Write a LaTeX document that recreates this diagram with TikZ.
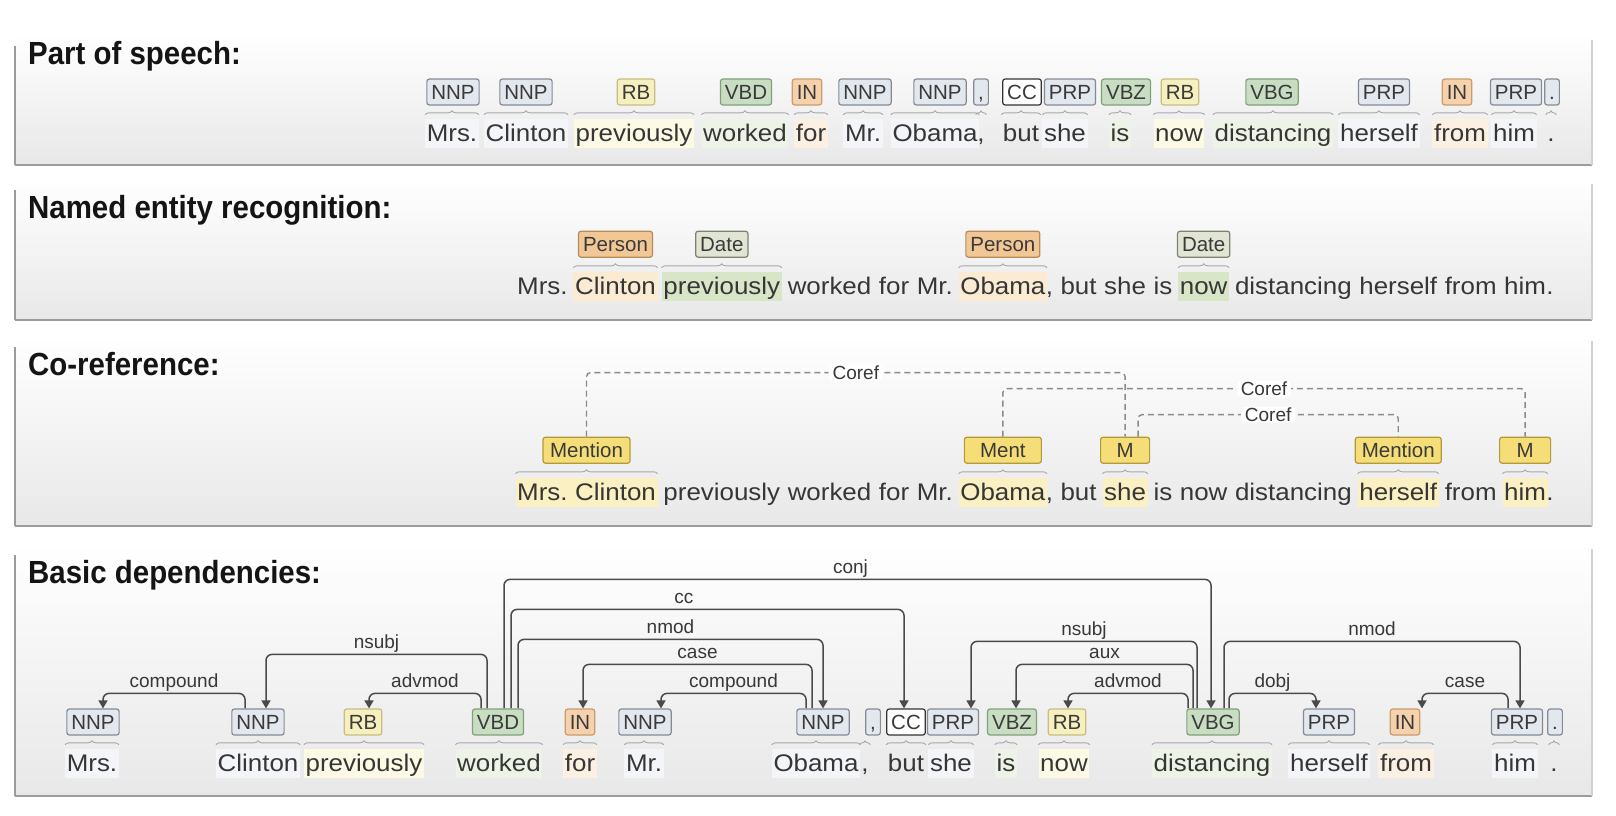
\documentclass[tikz,border=0pt]{standalone}
\usepackage{fontspec}
\setmainfont{Liberation Sans}
\newfontfamily\wordfont{Liberation Sans}[FakeStretch=1.08]
\newfontfamily\titlefont{Liberation Sans}[FakeStretch=0.92]
\usetikzlibrary{positioning,calc,arrows.meta,decorations.pathreplacing}
\pgfdeclarelayer{panellayer}
\pgfdeclarelayer{marklayer}
\pgfdeclarelayer{edgelayer}
\pgfdeclarelayer{nodelayer}
\pgfsetlayers{panellayer,marklayer,edgelayer,nodelayer,main}
\definecolor{titletxt}{HTML}{141414}
\definecolor{wordtxt}{HTML}{363636}
\definecolor{tagtxt}{HTML}{3A3A3A}
\definecolor{lbltxt}{HTML}{383838}
\definecolor{nnpfill}{HTML}{E3E7EE}
\definecolor{nnpline}{HTML}{848B96}
\definecolor{rbfill}{HTML}{F6EFBE}
\definecolor{rbline}{HTML}{C8BC80}
\definecolor{vbfill}{HTML}{C8DDC2}
\definecolor{vbline}{HTML}{80A07C}
\definecolor{infill}{HTML}{F5D2AC}
\definecolor{inedge}{HTML}{C99B6D}
\definecolor{perfill}{HTML}{F2C796}
\definecolor{perline}{HTML}{B58A5C}
\definecolor{datefill}{HTML}{E1E5D4}
\definecolor{dateline}{HTML}{7E8270}
\definecolor{menfill}{HTML}{F5DE78}
\definecolor{menline}{HTML}{B29A3C}
\definecolor{hlnnp}{HTML}{F3F5F8}
\definecolor{hlrb}{HTML}{FCF9E4}
\definecolor{hlvb}{HTML}{EDF3E6}
\definecolor{hlin}{HTML}{FCF0E2}
\definecolor{hlper}{HTML}{FBEBD3}
\definecolor{hldate}{HTML}{D9E5C7}
\definecolor{hlmen}{HTML}{FBF0C2}
\definecolor{bracec}{HTML}{A8A8A8}
\definecolor{arcc}{HTML}{4A4A4A}
\definecolor{corefc}{HTML}{8A8A8A}
\definecolor{panelc}{HTML}{E8E8E8}
\definecolor{paneledge}{HTML}{9C9C9C}
\tikzstyle{panel}=[top color=white, bottom color=panelc]
\tikzstyle{paneline}=[draw=paneledge, line width=2.5pt]
\tikzstyle{title}=[font=\titlefont\bfseries\fontsize{32pt}{32pt}\selectfont, text=titletxt, anchor=base west, inner sep=0pt]
\tikzstyle{word}=[font=\wordfont\fontsize{24pt}{24pt}\selectfont, text=wordtxt, inner xsep=1.5pt, inner ysep=2pt, text height=20pt, text depth=5pt]
\tikzstyle{tag}=[rounded corners=2.5pt, line width=1.2pt, font=\fontsize{20.5pt}{20.5pt}\selectfont, text=tagtxt, inner xsep=4.5pt, inner ysep=0pt, text height=15pt, text depth=0pt, minimum height=26pt]
\tikzstyle{tagnn}=[tag, fill=nnpfill, draw=nnpline]
\tikzstyle{tagrb}=[tag, fill=rbfill, draw=rbline]
\tikzstyle{tagvb}=[tag, fill=vbfill, draw=vbline]
\tikzstyle{tagin}=[tag, fill=infill, draw=inedge]
\tikzstyle{tagcc}=[tag, fill=white, draw=black!80]
\tikzstyle{tagper}=[tag, fill=perfill, draw=perline]
\tikzstyle{tagdate}=[tag, fill=datefill, draw=dateline]
\tikzstyle{tagmen}=[tag, fill=menfill, draw=menline]
\tikzstyle{brace}=[draw=bracec, line width=0.9pt, decorate, decoration={brace, amplitude=4pt}]
\tikzstyle{dep}=[draw=arcc, line width=1.5pt, rounded corners=6pt, -{Triangle[length=8pt, width=9pt]}]
\tikzstyle{deplbl}=[above, font=\fontsize{19pt}{19pt}\selectfont, text=lbltxt, inner xsep=1pt, inner ysep=1.5pt, text depth=4pt]
\tikzstyle{coref}=[draw=corefc, line width=1.4pt, dash pattern=on 6pt off 4pt, rounded corners=4pt]
\tikzstyle{corlbl}=[font=\fontsize{19pt}{19pt}\selectfont, text=lbltxt, fill=white, inner xsep=4pt, inner ysep=1pt]

\begin{document}
\begin{tikzpicture}[x=1pt, y=-1pt]
\useasboundingbox (0,0) rectangle (1616,816);
\begin{pgfonlayer}{panellayer}
	\fill[white] (0,0) rectangle (1616,816);
	% the four panels
	\shade[panel] (15,34) rectangle (1592,165);
	\shade[panel] (15,178) rectangle (1592,320);
	\shade[panel] (15,335) rectangle (1592,526);
	\shade[panel] (15,543) rectangle (1592,796);
	\draw[paneline] (15,165) -- (1592,165);
	\draw[paneline] (15,320) -- (1592,320);
	\draw[paneline] (15,526) -- (1592,526);
	\draw[paneline] (15,796) -- (1592,796);
	\draw[draw=paneledge, line width=2pt] (15,46) -- (15,165);
	\draw[draw=paneledge, line width=2pt] (15,190) -- (15,320);
	\draw[draw=paneledge, line width=2pt] (15,347) -- (15,526);
	\draw[draw=paneledge, line width=2pt] (15,555) -- (15,796);
	\draw[draw=black!18, line width=1.5pt] (1592,40) -- (1592,165);
	\draw[draw=black!18, line width=1.5pt] (1592,184) -- (1592,320);
	\draw[draw=black!18, line width=1.5pt] (1592,341) -- (1592,526);
	\draw[draw=black!18, line width=1.5pt] (1592,549) -- (1592,796);
\end{pgfonlayer}
\begin{pgfonlayer}{nodelayer}
	\node[title] (h1) at (28,65) {Part of speech:};
	\node[title] (h2) at (28,218) {Named entity recognition:};
	\node[title] (h3) at (28,375) {Co-reference:};
	\node[title] (h4) at (28,583) {Basic dependencies:};
	% part of speech
	\node[word, anchor=base] (p1) at (452,141) {Mrs.};
	\node[word, anchor=base] (p2) at (526,141) {Clinton};
	\node[word, anchor=base] (p3) at (634,141) {previously};
	\node[word, anchor=base] (p4) at (745,141) {worked};
	\node[word, anchor=base] (p5) at (811,141) {for};
	\node[word, anchor=base] (p6) at (863,141) {Mr.};
	\node[word, anchor=base] (p7) at (935,141) {Obama};
	\node[word, anchor=base] (p8) at (981,141) {,};
	\node[word, anchor=base] (p9) at (1021,141) {but};
	\node[word, anchor=base] (p10) at (1065,141) {she};
	\node[word, anchor=base] (p11) at (1120,141) {is};
	\node[word, anchor=base] (p12) at (1179,141) {now};
	\node[word, anchor=base] (p13) at (1273,141) {distancing};
	\node[word, anchor=base] (p14) at (1379,141) {herself};
	\node[word, anchor=base] (p15) at (1460,141) {from};
	\node[word, anchor=base] (p16) at (1514,141) {him};
	\node[word, anchor=base] (p17) at (1551,141) {.};
	\node[tagnn] (pt1) at (453,92) {NNP};
	\node[tagnn] (pt2) at (526,92) {NNP};
	\node[tagrb] (pt3) at (636,92) {RB};
	\node[tagvb] (pt4) at (746,92) {VBD};
	\node[tagin] (pt5) at (807,92) {IN};
	\node[tagnn] (pt6) at (865,92) {NNP};
	\node[tagnn] (pt7) at (940,92) {NNP};
	\node[tagnn] (pt8) at (981,92) {,};
	\node[tagcc] (pt9) at (1022,92) {CC};
	\node[tagnn] (pt10) at (1070,92) {PRP};
	\node[tagvb] (pt11) at (1126,92) {VBZ};
	\node[tagrb] (pt12) at (1180,92) {RB};
	\node[tagvb] (pt13) at (1272,92) {VBG};
	\node[tagnn] (pt14) at (1384,92) {PRP};
	\node[tagin] (pt15) at (1457,92) {IN};
	\node[tagnn] (pt16) at (1516,92) {PRP};
	\node[tagnn] (pt17) at (1552,92) {.};
	% named entities
	\node[word, anchor=base west] (n1) at (515.5,294) {Mrs.};
	\node[word, right=4.2pt of n1] (n2) {Clinton};
	\node[word, right=4.2pt of n2] (n3) {previously};
	\node[word, right=4.2pt of n3] (n4) {worked};
	\node[word, right=4.2pt of n4] (n5) {for};
	\node[word, right=4.2pt of n5] (n6) {Mr.};
	\node[word, right=4.2pt of n6] (n7) {Obama};
	\node[word, right=-3pt of n7] (n8) {,};
	\node[word, right=4.2pt of n8] (n9) {but};
	\node[word, right=4.2pt of n9] (n10) {she};
	\node[word, right=4.2pt of n10] (n11) {is};
	\node[word, right=4.2pt of n11] (n12) {now};
	\node[word, right=4.2pt of n12] (n13) {distancing};
	\node[word, right=4.2pt of n13] (n14) {herself};
	\node[word, right=4.2pt of n14] (n15) {from};
	\node[word, right=4.2pt of n15] (n16) {him};
	\node[word, right=-3pt of n16] (n17) {.};
	\node[tagper, above=14pt of n2] (e1) {Person};
	\node[tagdate, above=14pt of n3] (e2) {Date};
	\node[tagper, above=14pt of n7] (e3) {Person};
	\node[tagdate, above=14pt of n12] (e4) {Date};
	% co-reference
	\node[word, anchor=base west] (c1) at (515.5,500) {Mrs.};
	\node[word, right=4.2pt of c1] (c2) {Clinton};
	\node[word, right=4.2pt of c2] (c3) {previously};
	\node[word, right=4.2pt of c3] (c4) {worked};
	\node[word, right=4.2pt of c4] (c5) {for};
	\node[word, right=4.2pt of c5] (c6) {Mr.};
	\node[word, right=4.2pt of c6] (c7) {Obama};
	\node[word, right=-3pt of c7] (c8) {,};
	\node[word, right=4.2pt of c8] (c9) {but};
	\node[word, right=4.2pt of c9] (c10) {she};
	\node[word, right=4.2pt of c10] (c11) {is};
	\node[word, right=4.2pt of c11] (c12) {now};
	\node[word, right=4.2pt of c12] (c13) {distancing};
	\node[word, right=4.2pt of c13] (c14) {herself};
	\node[word, right=4.2pt of c14] (c15) {from};
	\node[word, right=4.2pt of c15] (c16) {him};
	\node[word, right=-3pt of c16] (c17) {.};
	\node[tagmen, minimum width=87pt, anchor=south, yshift=14pt] (m1) at ($(c1.north west)!0.5!(c2.north east)$) {Mention};
	\node[tagmen, minimum width=77pt, above=14pt of c7] (m2) {Ment};
	\node[tagmen, minimum width=49pt, above=14pt of c10] (m3) {M};
	\node[tagmen, minimum width=86pt, above=14pt of c14] (m4) {Mention};
	\node[tagmen, minimum width=51pt, above=14pt of c16] (m5) {M};
	% dependencies
	\node[word, anchor=base] (d1) at (92,771) {Mrs.};
	\node[word, anchor=base] (d2) at (258,771) {Clinton};
	\node[word, anchor=base] (d3) at (364,771) {previously};
	\node[word, anchor=base] (d4) at (499,771) {worked};
	\node[word, anchor=base] (d5) at (580,771) {for};
	\node[word, anchor=base] (d6) at (644,771) {Mr.};
	\node[word, anchor=base] (d7) at (816,771) {Obama};
	\node[word, anchor=base] (d8) at (865,771) {,};
	\node[word, anchor=base] (d9) at (906,771) {but};
	\node[word, anchor=base] (d10) at (951,771) {she};
	\node[word, anchor=base] (d11) at (1006,771) {is};
	\node[word, anchor=base] (d12) at (1064,771) {now};
	\node[word, anchor=base] (d13) at (1212,771) {distancing};
	\node[word, anchor=base] (d14) at (1329,771) {herself};
	\node[word, anchor=base] (d15) at (1406,771) {from};
	\node[word, anchor=base] (d16) at (1515,771) {him};
	\node[word, anchor=base] (d17) at (1554,771) {.};
	\node[tagnn] (t1) at (93,722) {NNP};
	\node[tagnn] (t2) at (258,722) {NNP};
	\node[tagrb] (t3) at (363,722) {RB};
	\node[tagvb] (t4) at (498,722) {VBD};
	\node[tagin] (t5) at (580,722) {IN};
	\node[tagnn] (t6) at (645,722) {NNP};
	\node[tagnn] (t7) at (823,722) {NNP};
	\node[tagnn] (t8) at (873,722) {,};
	\node[tagcc] (t9) at (906,722) {CC};
	\node[tagnn] (t10) at (953,722) {PRP};
	\node[tagvb] (t11) at (1012,722) {VBZ};
	\node[tagrb] (t12) at (1067,722) {RB};
	\node[tagvb] (t13) at (1213,722) {VBG};
	\node[tagnn] (t14) at (1329,722) {PRP};
	\node[tagin] (t15) at (1405,722) {IN};
	\node[tagnn] (t16) at (1517,722) {PRP};
	\node[tagnn] (t17) at (1555,722) {.};
\end{pgfonlayer}
\begin{pgfonlayer}{marklayer}
	% word tints
	\fill[hlnnp] (p1.north west) rectangle (p1.south east);
	\fill[hlnnp] (p2.north west) rectangle (p2.south east);
	\fill[hlrb] (p3.north west) rectangle (p3.south east);
	\fill[hlvb] (p4.north west) rectangle (p4.south east);
	\fill[hlin] (p5.north west) rectangle (p5.south east);
	\fill[hlnnp] (p6.north west) rectangle (p6.south east);
	\fill[hlnnp] (p7.north west) rectangle (p7.south east);
	\fill[hlnnp] (p10.north west) rectangle (p10.south east);
	\fill[hlvb] (p11.north west) rectangle (p11.south east);
	\fill[hlrb] (p12.north west) rectangle (p12.south east);
	\fill[hlvb] (p13.north west) rectangle (p13.south east);
	\fill[hlnnp] (p14.north west) rectangle (p14.south east);
	\fill[hlin] (p15.north west) rectangle (p15.south east);
	\fill[hlnnp] (p16.north west) rectangle (p16.south east);
	\fill[hlper] (n2.north west) rectangle (n2.south east);
	\fill[hldate] (n3.north west) rectangle (n3.south east);
	\fill[hlper] (n7.north west) rectangle (n7.south east);
	\fill[hldate] (n12.north west) rectangle (n12.south east);
	\fill[hlmen] (c1.north west) rectangle (c2.south east);
	\fill[hlmen] (c7.north west) rectangle (c7.south east);
	\fill[hlmen] (c10.north west) rectangle (c10.south east);
	\fill[hlmen] (c14.north west) rectangle (c14.south east);
	\fill[hlmen] (c16.north west) rectangle (c16.south east);
	\fill[hlnnp] (d1.north west) rectangle (d1.south east);
	\fill[hlnnp] (d2.north west) rectangle (d2.south east);
	\fill[hlrb] (d3.north west) rectangle (d3.south east);
	\fill[hlvb] (d4.north west) rectangle (d4.south east);
	\fill[hlin] (d5.north west) rectangle (d5.south east);
	\fill[hlnnp] (d6.north west) rectangle (d6.south east);
	\fill[hlnnp] (d7.north west) rectangle (d7.south east);
	\fill[hlnnp] (d10.north west) rectangle (d10.south east);
	\fill[hlvb] (d11.north west) rectangle (d11.south east);
	\fill[hlrb] (d12.north west) rectangle (d12.south east);
	\fill[hlvb] (d13.north west) rectangle (d13.south east);
	\fill[hlnnp] (d14.north west) rectangle (d14.south east);
	\fill[hlin] (d15.north west) rectangle (d15.south east);
	\fill[hlnnp] (d16.north west) rectangle (d16.south east);
\end{pgfonlayer}
\begin{pgfonlayer}{edgelayer}
	% braces under the tags
	\draw[brace] ([yshift=4pt]p1.north west) -- ([yshift=4pt]p1.north east);
	\draw[brace] ([yshift=4pt]p2.north west) -- ([yshift=4pt]p2.north east);
	\draw[brace] ([yshift=4pt]p3.north west) -- ([yshift=4pt]p3.north east);
	\draw[brace] ([yshift=4pt]p4.north west) -- ([yshift=4pt]p4.north east);
	\draw[brace] ([yshift=4pt]p5.north west) -- ([yshift=4pt]p5.north east);
	\draw[brace] ([yshift=4pt]p6.north west) -- ([yshift=4pt]p6.north east);
	\draw[brace] ([yshift=4pt]p7.north west) -- ([yshift=4pt]p7.north east);
	\draw[brace] ([yshift=4pt]p8.north west) -- ([yshift=4pt]p8.north east);
	\draw[brace] ([yshift=4pt]p9.north west) -- ([yshift=4pt]p9.north east);
	\draw[brace] ([yshift=4pt]p10.north west) -- ([yshift=4pt]p10.north east);
	\draw[brace] ([yshift=4pt]p11.north west) -- ([yshift=4pt]p11.north east);
	\draw[brace] ([yshift=4pt]p12.north west) -- ([yshift=4pt]p12.north east);
	\draw[brace] ([yshift=4pt]p13.north west) -- ([yshift=4pt]p13.north east);
	\draw[brace] ([yshift=4pt]p14.north west) -- ([yshift=4pt]p14.north east);
	\draw[brace] ([yshift=4pt]p15.north west) -- ([yshift=4pt]p15.north east);
	\draw[brace] ([yshift=4pt]p16.north west) -- ([yshift=4pt]p16.north east);
	\draw[brace] ([yshift=4pt]p17.north west) -- ([yshift=4pt]p17.north east);
	\draw[brace] ([yshift=4pt]n2.north west) -- ([yshift=4pt]n2.north east);
	\draw[brace] ([yshift=4pt]n3.north west) -- ([yshift=4pt]n3.north east);
	\draw[brace] ([yshift=4pt]n7.north west) -- ([yshift=4pt]n7.north east);
	\draw[brace] ([yshift=4pt]n12.north west) -- ([yshift=4pt]n12.north east);
	\draw[brace] ([yshift=4pt]c1.north west) -- ([yshift=4pt]c2.north east);
	\draw[brace] ([yshift=4pt]c7.north west) -- ([yshift=4pt]c7.north east);
	\draw[brace] ([yshift=4pt]c10.north west) -- ([yshift=4pt]c10.north east);
	\draw[brace] ([yshift=4pt]c14.north west) -- ([yshift=4pt]c14.north east);
	\draw[brace] ([yshift=4pt]c16.north west) -- ([yshift=4pt]c16.north east);
	\draw[brace] ([yshift=4pt]d1.north west) -- ([yshift=4pt]d1.north east);
	\draw[brace] ([yshift=4pt]d2.north west) -- ([yshift=4pt]d2.north east);
	\draw[brace] ([yshift=4pt]d3.north west) -- ([yshift=4pt]d3.north east);
	\draw[brace] ([yshift=4pt]d4.north west) -- ([yshift=4pt]d4.north east);
	\draw[brace] ([yshift=4pt]d5.north west) -- ([yshift=4pt]d5.north east);
	\draw[brace] ([yshift=4pt]d6.north west) -- ([yshift=4pt]d6.north east);
	\draw[brace] ([yshift=4pt]d7.north west) -- ([yshift=4pt]d7.north east);
	\draw[brace] ([yshift=4pt]d8.north west) -- ([yshift=4pt]d8.north east);
	\draw[brace] ([yshift=4pt]d9.north west) -- ([yshift=4pt]d9.north east);
	\draw[brace] ([yshift=4pt]d10.north west) -- ([yshift=4pt]d10.north east);
	\draw[brace] ([yshift=4pt]d11.north west) -- ([yshift=4pt]d11.north east);
	\draw[brace] ([yshift=4pt]d12.north west) -- ([yshift=4pt]d12.north east);
	\draw[brace] ([yshift=4pt]d13.north west) -- ([yshift=4pt]d13.north east);
	\draw[brace] ([yshift=4pt]d14.north west) -- ([yshift=4pt]d14.north east);
	\draw[brace] ([yshift=4pt]d15.north west) -- ([yshift=4pt]d15.north east);
	\draw[brace] ([yshift=4pt]d16.north west) -- ([yshift=4pt]d16.north east);
	\draw[brace] ([yshift=4pt]d17.north west) -- ([yshift=4pt]d17.north east);
	% coref links
	\draw[coref] (m1.north) -- ++(0,-64) -| node[corlbl, pos=0.25] {Coref} (m3.north);
	\draw[coref] (m2.north) -- ++(0,-48) -| node[corlbl, pos=0.25] {Coref} (m5.north);
	\draw[coref] ([xshift=13pt]m3.north) -- ++(0,-22) -| node[corlbl, pos=0.25] {Coref} (m4.north);
	% dependency arcs
	\draw[dep] ([xshift=-13pt]t2.north) -- ++(0,-15) -| node[deplbl, pos=0.25] {compound} ([xshift=10pt]t1.north);
	\draw[dep] ([xshift=-11pt]t4.north) -- ++(0,-54) -| node[deplbl, pos=0.25] {nsubj} ([xshift=8pt]t2.north);
	\draw[dep] ([xshift=-17pt]t4.north) -- ++(0,-15) -| node[deplbl, pos=0.25] {advmod} ([xshift=6pt]t3.north);
	\draw[dep] ([xshift=6pt]t4.north) -- ++(0,-129) -| node[deplbl, pos=0.245] {conj} ([xshift=-2pt]t13.north);
	\draw[dep] ([xshift=13pt]t4.north) -- ++(0,-99) -| node[deplbl, pos=0.22] {cc} ([xshift=-2pt]t9.north);
	\draw[dep] ([xshift=20pt]t4.north) -- ++(0,-69) -| node[deplbl, pos=0.25] {nmod} (t7.north);
	\draw[dep] ([xshift=-11pt]t7.north) -- ++(0,-44) -| node[deplbl, pos=0.25] {case} ([xshift=3pt]t5.north);
	\draw[dep] ([xshift=-17pt]t7.north) -- ++(0,-15) -| node[deplbl, pos=0.25] {compound} ([xshift=16pt]t6.north);
	\draw[dep] ([xshift=-16pt]t13.north) -- ++(0,-67) -| node[deplbl, pos=0.25] {nsubj} ([xshift=18pt]t10.north);
	\draw[dep] ([xshift=-20pt]t13.north) -- ++(0,-44) -| node[deplbl, pos=0.25] {aux} ([xshift=4pt]t11.north);
	\draw[dep] ([xshift=-25pt]t13.north) -- ++(0,-15) -| node[deplbl, pos=0.25] {advmod} ([xshift=1pt]t12.north);
	\draw[dep] ([xshift=16pt]t13.north) -- ++(0,-15) -| node[deplbl, pos=0.25] {dobj} ([xshift=-13pt]t14.north);
	\draw[dep] ([xshift=11pt]t13.north) -- ++(0,-67) -| node[deplbl, pos=0.25] {nmod} ([xshift=3pt]t16.north);
	\draw[dep] ([xshift=-9pt]t16.north) -- ++(0,-15) -| node[deplbl, pos=0.25] {case} ([xshift=17pt]t15.north);
\end{pgfonlayer}
\end{tikzpicture}
\end{document}
